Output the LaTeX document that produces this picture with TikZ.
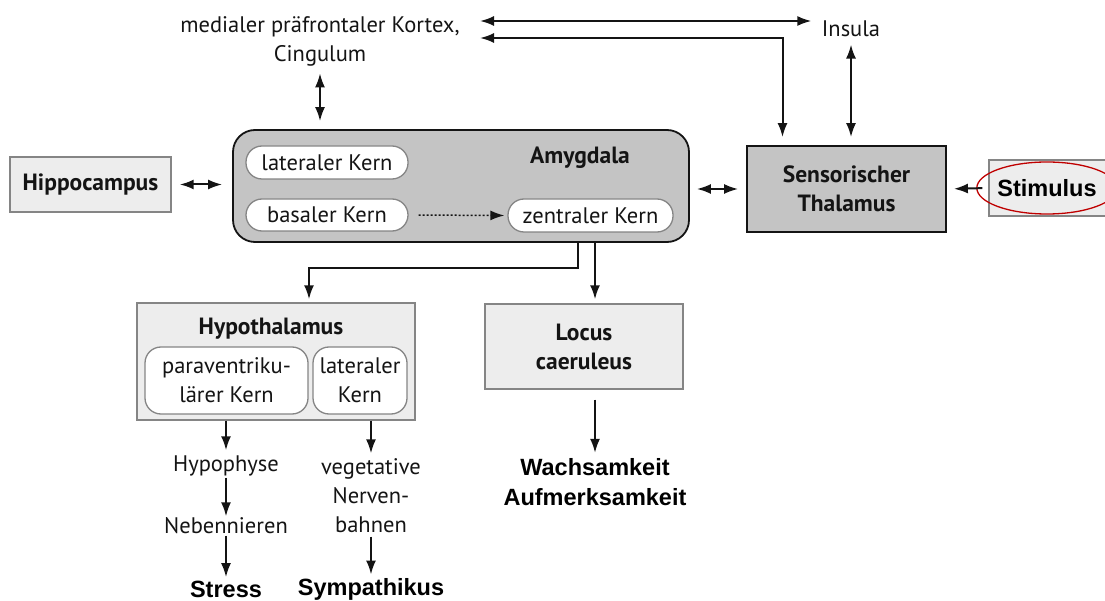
\documentclass[tikz,border=0pt]{standalone}
\usepackage{fontspec}
\setmainfont{PT Sans}
\newfontfamily\arialfont{Liberation Sans}
\usetikzlibrary{arrows.meta,shapes.geometric}

\definecolor{boxlight}{HTML}{EDEDED}
\definecolor{boxdark}{HTML}{C4C4C4}
\definecolor{rimgray}{HTML}{858585}
\definecolor{inkgray}{HTML}{141414}

\tikzset{
  every node/.style={text=inkgray, font=\fontsize{22.5}{29}\selectfont},
  bold/.style={font=\fontsize{23.5}{29}\selectfont\bfseries},
  arial/.style={font=\fontsize{23.5}{30}\selectfont\arialfont\bfseries, text=black},
  lightbox/.style={draw=rimgray, line width=1.4pt, fill=boxlight},
  darkbox/.style={draw=inkgray, line width=1.8pt, fill=boxdark},
  kern/.style={draw=rimgray, line width=1.3pt, fill=white, rounded corners=16pt, align=center, inner sep=2pt},
  arr/.style={-{Latex[length=14pt,width=10pt]}, line width=2pt, draw=inkgray},
  dbl/.style={{Latex[length=14pt,width=10pt]}-{Latex[length=14pt,width=10pt]}, line width=2pt, draw=inkgray},
}

\begin{document}
\begin{tikzpicture}[x=1pt,y=-1pt]
  \useasboundingbox (0,0) rectangle (1105,601);

  % boxes
  \node[lightbox, bold, minimum width=161, minimum height=55] (hippo) at (90.5,184.5) {Hippocampus};
  \node[darkbox, rounded corners=22pt, minimum width=456, minimum height=112] (amy) at (461,186) {};
  \node[bold] (amylabel) at (580,158) {Amygdala};
  \node[kern, minimum width=162, minimum height=33] (latk) at (327,162.5) {lateraler Kern};
  \node[kern, minimum width=162, minimum height=32] (bask) at (327,215) {basaler Kern};
  \node[kern, minimum width=165, minimum height=33] (zenk) at (590.5,215.5) {zentraler Kern};
  \node[darkbox, bold, align=center, minimum width=199, minimum height=86] (thal) at (846.5,189) {Sensorischer\\Thalamus};
  \node[lightbox, minimum width=120, minimum height=56] (stimbox) at (1049,188) {};
  \node[ellipse, draw=red!75!black, line width=1.3pt, arial, inner sep=0pt, minimum width=116, minimum height=52] (stim) at (1047,188) {Stimulus};

  \node[align=center] (cortex) at (320,41) {medialer präfrontaler Kortex,\\Cingulum};
  \node (insula) at (851,29) {Insula};
  \coordinate (k1) at (480,21);
  \coordinate (k2) at (480,38);

  \node[lightbox, minimum width=278, minimum height=117] (hypo) at (276,361.5) {};
  \node[bold] (hypolabel) at (271,329) {Hypothalamus};
  \node[kern, minimum width=163, minimum height=67] (pvk) at (226.5,380.5) {paraventriku-\\lärer Kern};
  \node[kern, minimum width=94, minimum height=67] (lhk) at (360,380.5) {lateraler\\Kern};
  \node[lightbox, bold, align=center, minimum width=198, minimum height=85] (locus) at (584,346.5) {Locus\\caeruleus};

  % end points
  \node (hypoph) at (226,466) {Hypophyse};
  \node (nebenn) at (226,526) {Nebennieren};
  \node[arial] (stress) at (226,589) {Stress};
  \node[align=center] (veget) at (371,496) {vegetative\\Nerven-\\bahnen};
  \node[arial] (sympa) at (371,589) {Sympathikus};
  \node[arial, align=center] (wach) at (595,482) {Wachsamkeit\\Aufmerksamkeit};

  % connections
  \draw[dbl, shorten <=8, shorten >=10] (hippo.east) -- (hippo.east -| amy.west);
  \draw[dbl, shorten <=7, shorten >=8] (amy.east |- thal) -- (thal.west);
  \draw[arr, shorten <=6, shorten >=7] (stimbox.west) -- (thal.east);
  \draw[dbl, shorten <=4, shorten >=8] (cortex.south) -- (cortex.south |- amy.north);
  \draw[dbl, shorten >=7] (k1) -- (k1 -| insula.west);
  \draw[dbl, shorten >=8] (k2) -| ([xshift=-64]thal.north);
  \draw[dbl, shorten <=4, shorten >=8] (insula.south) -- (insula.south |- thal.north);
  \draw[arr, dotted, line width=1.5pt, shorten <=10, shorten >=3] (bask.east) -- (zenk.west);
  \draw[arr, shorten >=3] ([xshift=117]amy.south) -- ++(0,25) -| ([xshift=33]hypo.north);
  \draw[arr, shorten >=4] ([xshift=134]amy.south) -- ([xshift=134]amy.south |- locus.north);
  \draw[arr, shorten <=10, shorten >=2] (wach.north |- locus.south) -- (wach.north);
  \draw[arr, shorten >=2] (hypo.south -| hypoph) -- (hypoph);
  \draw[arr, shorten <=-2, shorten >=-2] (hypoph) -- (nebenn);
  \draw[arr, shorten <=-2, shorten >=0] (nebenn) -- (stress);
  \draw[arr, shorten >=2] (hypo.south -| veget) -- (veget);
  \draw[arr, shorten >=0] (veget) -- (sympa);
\end{tikzpicture}
\end{document}
